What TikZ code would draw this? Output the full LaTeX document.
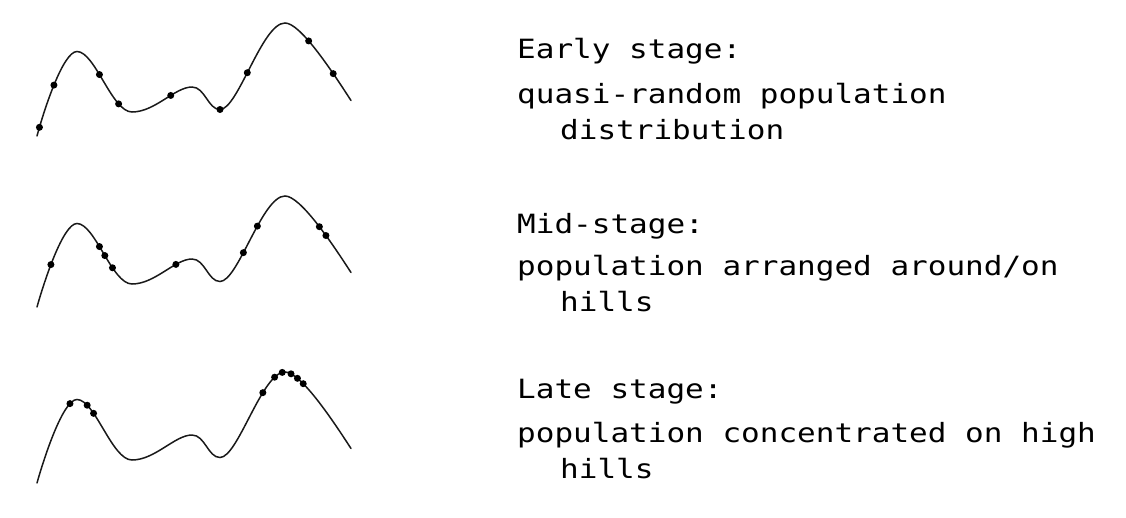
\documentclass[tikz,border=0pt]{standalone}
\usepackage{fontspec}
\newfontfamily\monof{DejaVu Sans Mono}
\begin{document}
\begin{tikzpicture}[x=1pt,y=-1pt,
  hill/.style={line width=1.5pt, black!90, line cap=round},
  dot/.style={circle, fill=black, inner sep=0pt, minimum size=7pt},
  lbl/.style={anchor=base west, inner sep=0pt, font=\monof\fontsize{26.5}{30}\selectfont, xscale=1.17}]
\useasboundingbox (0,0) rectangle (1126,517);
% ---- Early stage curve
\draw[hill] (37,136) .. controls (44,110) and (63,51.5) .. node[pos=0.1,dot](a1){} node[pos=0.49,dot](a2){} (77,51.5)
 .. controls (95,51.5) and (112,112) .. node[pos=0.42,dot](a3){} node[pos=0.77,dot](a4){} (132,112)
 .. controls (155,112) and (175,87) .. node[pos=0.61,dot](a5){} (192,87)
 .. controls (205,87) and (208,109.5) .. node[pos=1,dot](a6){} (220,109.5)
 .. controls (238,109.5) and (262,23) .. node[pos=0.45,dot](a7){} (285,23)
 .. controls (300,23) and (330,68) .. node[pos=0.4,dot](a8){} node[pos=0.74,dot](a9){} (351,100.5);
% ---- Mid-stage curve
\begin{scope}[yshift=-172pt]
\draw[hill] (37,135) .. controls (44,110) and (63,51.5) .. node[pos=0.42,dot](b1){} (77,51.5)
 .. controls (95,51.5) and (112,112) .. node[pos=0.42,dot](b2){} node[pos=0.52,dot](b3){} node[pos=0.66,dot](b4){} (132,112)
 .. controls (155,112) and (175,87) .. node[pos=0.70,dot](b5){} (192,87)
 .. controls (205,87) and (208,109.5) .. (220,109.5)
 .. controls (238,109.5) and (262,24) .. node[pos=0.39,dot](b6){} node[pos=0.6,dot](b7){} (285,24)
 .. controls (300,24) and (330,68) .. node[pos=0.55,dot](b8){} node[pos=0.64,dot](b9){} (351,100.5);
\end{scope}
% ---- Late stage curve
\begin{scope}[yshift=-348pt]
\draw[hill] (37,135) .. controls (44,110) and (63,51.5) .. node[pos=0.84,dot](c1){} (77,51.5)
 .. controls (95,51.5) and (112,112) .. node[pos=0.19,dot](c2){} node[pos=0.31,dot](c3){} (132,112)
 .. controls (155,112) and (175,87) .. (192,87)
 .. controls (205,87) and (208,109.5) .. (220,109.5)
 .. controls (238,109.5) and (262,24) .. node[pos=0.68,dot](c4){} node[pos=0.85,dot](c5){} node[pos=0.96,dot](c6){} (285,24)
 .. controls (300,24) and (330,68) .. node[pos=0.12,dot](c7){} node[pos=0.23,dot](c8){} node[pos=0.32,dot](c9){} (351,100.5);
\end{scope}
% ---- labels
\node[lbl] (t1a) at (517,58) {Early stage:};
\node[lbl] (t1b) at (517,103) {quasi-random population};
\node[lbl] (t1c) at (560,139) {distribution};
\node[lbl] (t2a) at (517,233) {Mid-stage:};
\node[lbl] (t2b) at (517,275) {population arranged around/on};
\node[lbl] (t2c) at (560,311) {hills};
\node[lbl] (t3a) at (517,398) {Late stage:};
\node[lbl] (t3b) at (517,442) {population concentrated on high};
\node[lbl] (t3c) at (560,478) {hills};
\end{tikzpicture}
\end{document}
